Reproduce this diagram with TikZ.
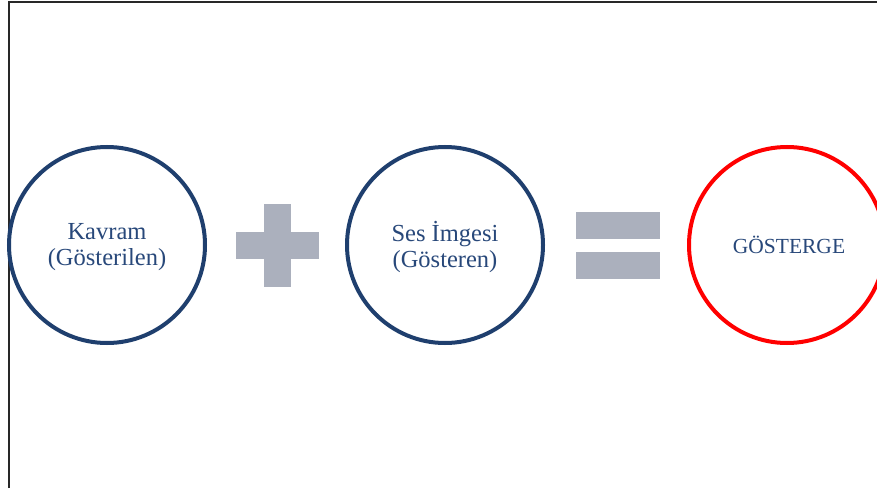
\documentclass[tikz,border=0pt]{standalone}
\usepackage{fontspec}
\setmainfont{Liberation Serif}
\definecolor{ringblue}{RGB}{31,63,110}
\definecolor{txtblue}{RGB}{40,72,122}
\definecolor{opgray}{RGB}{171,176,189}
\definecolor{framegray}{RGB}{40,40,40}
\tikzset{
  ring/.style={circle, draw=ringblue, line width=4pt, minimum size=196pt, inner sep=0pt,
    text=txtblue, align=center, font=\fontsize{24.5}{25.5}\selectfont},
  redring/.style={ring, draw=red, font=\fontsize{21.5}{24}\selectfont},
  opbar/.style={fill=opgray, draw=none}
}
\begin{document}
\begin{tikzpicture}[x=1pt,y=1pt]
\useasboundingbox (0,0) rectangle (877,488);
\fill[white] (0,0) rectangle (877,488);
% frame
\coordinate (fa) at (9,0);
\coordinate (fb) at (9,486);
\coordinate (fc) at (877,486);
\draw[framegray, line width=2pt] (fa) -- (fb) -- (fc);
% circles
\node[ring] (kavram) at (107,243) {};
\node[ring] (ses) at (445,243) {};
\node[redring] (gosterge) at (787,243) {};
\node[text=txtblue, align=center, font=\fontsize{24.5}{25.5}\selectfont] (t1) at (107,241) {Kavram\\(Gösterilen)};
\node[text=txtblue, align=center, font=\fontsize{24.5}{25.5}\selectfont] (t2) at (445,241) {Ses İmgesi\\(Gösteren)};
\node[text=txtblue, font=\fontsize{21.5}{24}\selectfont] (t3) at (789,243) {GÖSTERGE};
% plus
\fill[opbar] (236,229) rectangle (319,256);
\fill[opbar] (264,201) rectangle (291,284);
% equals
\fill[opbar] (576,249) rectangle (660,276);
\fill[opbar] (576,209) rectangle (660,236);
\end{tikzpicture}
\end{document}
